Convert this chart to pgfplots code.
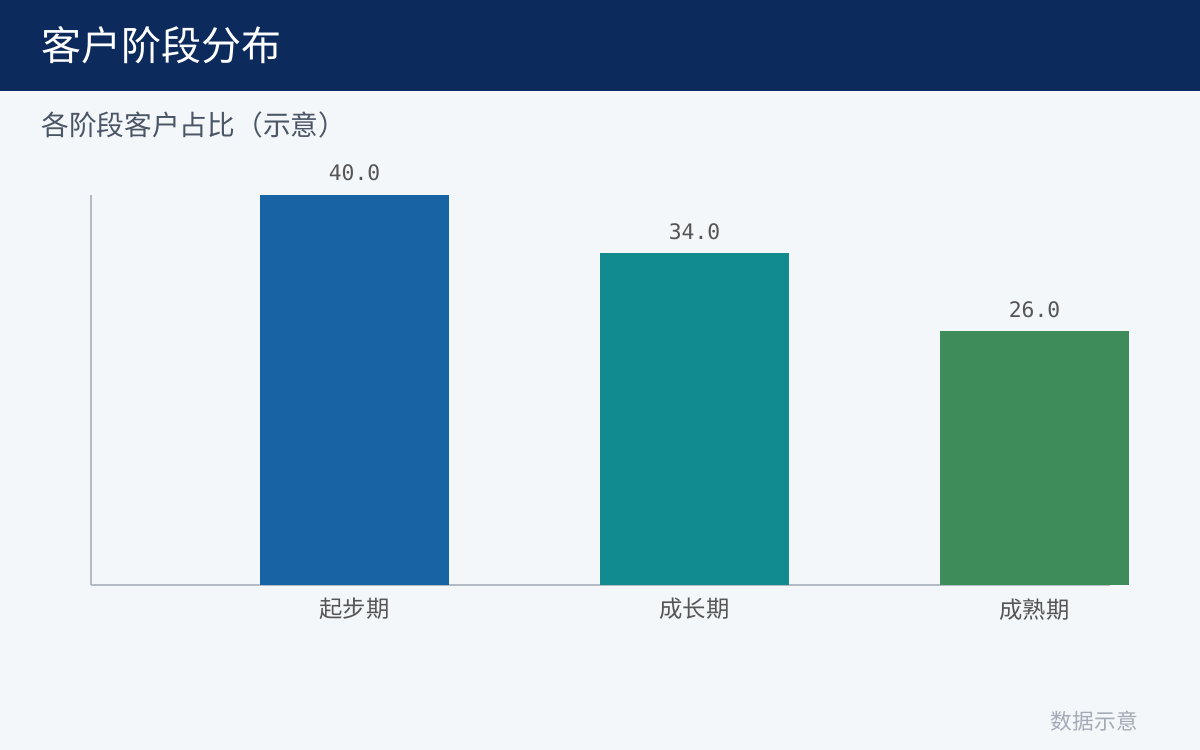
\documentclass[border=0pt]{standalone}
\usepackage{pgfplots}
\pgfplotsset{compat=1.18}
\usepackage{fontspec}
\setmainfont{Noto Sans CJK SC}
\newfontfamily\numfont{DejaVu Sans Mono}
\definecolor{bg}{HTML}{F4F7FA}
\definecolor{header}{HTML}{0C2A5C}
\definecolor{subc}{HTML}{4A5566}
\definecolor{footc}{HTML}{A3ABB6}
\definecolor{axc}{HTML}{B3BBC5}
\definecolor{tickc}{HTML}{555555}
\definecolor{c1}{HTML}{1763A3}
\definecolor{c2}{HTML}{128B8F}
\definecolor{c3}{HTML}{3D8C5A}
\begin{document}
\begin{tikzpicture}[x=0.75pt,y=0.75pt]
\fill[bg] (0,0) rectangle (1200,750);
\fill[header] (0,659) rectangle (1200,750);
\node[anchor=west, text=white, inner sep=0pt, font=\fontsize{30}{34}\selectfont] at (41,705) {客户阶段分布};
\node[anchor=west, text=subc, inner sep=0pt, font=\fontsize{20.8}{24}\selectfont] at (41,625) {各阶段客户占比（示意）};
\node[anchor=east, text=footc, inner sep=0pt, font=\fontsize{16.3}{20}\selectfont] at (1138,29) {数据示意};
\begin{axis}[
  at={(68.25pt,123.75pt)}, anchor=south west,
  scale only axis, width=764.25pt, height=292.5pt,
  xmin=-0.775, xmax=2.222, ymin=0, ymax=40,
  clip=false,
  axis lines=left,
  axis line style={-, draw=axc, line width=1.5pt},
  ytick=\empty,
  xtick={0,1,2},
  xticklabels={起步期,成长期,成熟期},
  major tick length=0pt,
  xticklabel style={text=tickc, font=\fontsize{17.5}{20}\selectfont, yshift=-6.5pt},
  ybar, bar width=0.556, bar shift=0pt,
  nodes near coords,
  nodes near coords style={text=tickc, font=\numfont\fontsize{16}{18}\selectfont, anchor=south, yshift=7pt, /pgf/number format/.cd, fixed, fixed zerofill, precision=1, assume math mode=true},
]
\addplot[draw=none, fill=c1] coordinates {(0,40)};
\addplot[draw=none, fill=c2] coordinates {(1,34)};
\addplot[draw=none, fill=c3] coordinates {(2,26)};
\end{axis}
\end{tikzpicture}
\end{document}
